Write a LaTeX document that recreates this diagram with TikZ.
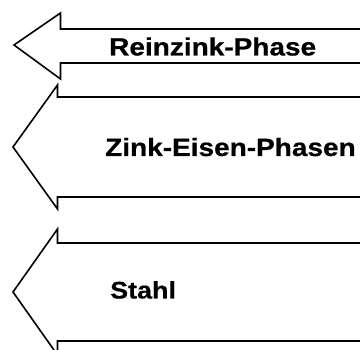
\documentclass[tikz,border=0pt]{standalone}
\usepackage{fontspec}
\newfontfamily\phasefont[FakeStretch=1.12, BoldFeatures={FakeBold=0.6}]{Liberation Sans}
\begin{document}
\begin{tikzpicture}[x=1pt,y=-1pt,
  layerarrow/.style={draw=black, line width=1.6pt, line join=miter, fill=white},
  layerlabel/.style={anchor=base west, inner sep=0pt,
    font=\phasefont\bfseries\fontsize{25}{30}\selectfont}]
\useasboundingbox (0,0) rectangle (360,350);
\clip (0,0) rectangle (360,350);
% left-pointing block arrows, shafts running off to the right
\draw[layerarrow] (370,29) -- (60.5,29) -- (60.5,13) -- (14,45) -- (60.5,79) -- (60.5,63) -- (370,63);
\draw[layerarrow] (370,97) -- (57.5,97) -- (57.5,85) -- (13,147) -- (57.5,209) -- (57.5,197) -- (370,197);
\draw[layerarrow] (370,243) -- (57.5,243) -- (57.5,229) -- (13,292) -- (57.5,355) -- (57.5,341) -- (370,341);
% labels
\node[layerlabel] (rein) at (109,55.5) {Reinzink-Phase};
\node[layerlabel] (zfe) at (105,156) {Zink-Eisen-Phasen};
\node[layerlabel, font=\phasefont\bfseries\fontsize{24}{29}\selectfont] (stahl) at (110,298.5) {Stahl};
\end{tikzpicture}
\end{document}
